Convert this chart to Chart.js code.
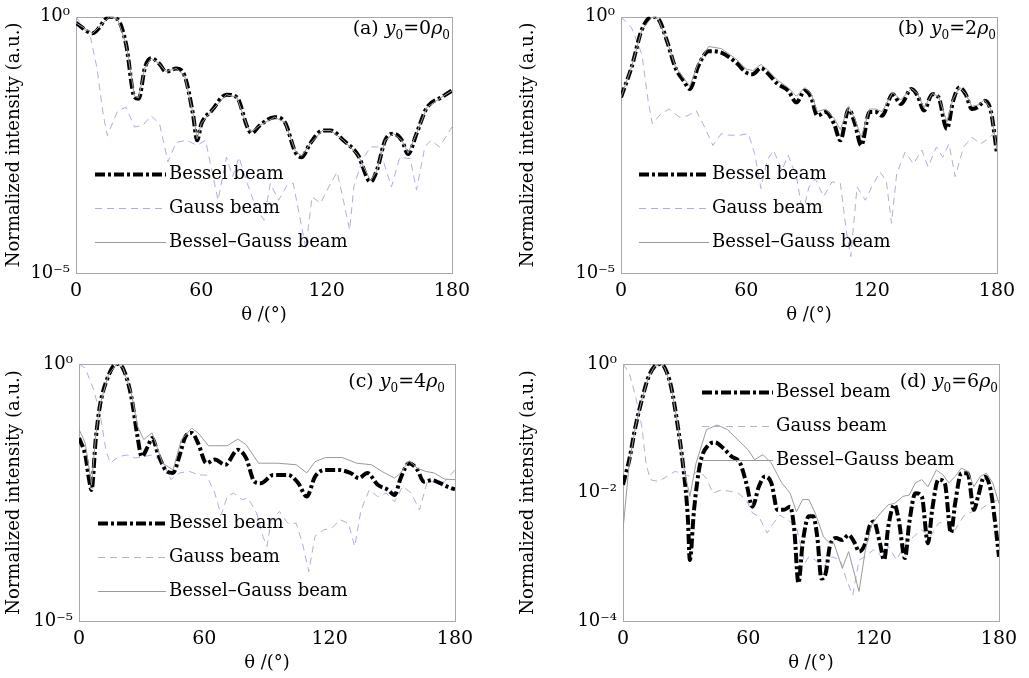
<!DOCTYPE html>
<html lang="en">
<head>
<meta charset="UTF-8">
<title>Normalized intensity vs scattering angle</title>
<script src="https://cdn.jsdelivr.net/npm/chart.js"></script>
<style>
  body { margin: 0; background: #fff; }
  #wrap { position: relative; width: 1029px; height: 678px; }
  canvas { position: absolute; }
</style>
</head>
<body>
<div id="wrap">
  <canvas id="ca" width="514" height="330" style="left:0;top:0"></canvas>
  <canvas id="cb" width="515" height="330" style="left:514px;top:0"></canvas>
  <canvas id="cc" width="514" height="348" style="left:0;top:330px"></canvas>
  <canvas id="cd" width="515" height="348" style="left:514px;top:330px"></canvas>
</div>
<script>
// all intensities are stored as log10(normalized intensity)
const xTicks = [0, 60, 120, 180];
const yTicks5 = [1e-5, 1];
const yLabels5 = ['10⁻⁵', '10⁰'];
const yTicks4 = [1e-4, 1e-2, 1];
const yLabels4 = ['10⁻⁴', '10⁻²', '10⁰'];
const seriesNames = ['Bessel beam', 'Gauss beam', 'Bessel–Gauss beam'];
const panelTags = ['(a)', '(b)', '(c)', '(d)'];
const y0Values = [0, 2, 4, 6];

// (a) y0 = 0
const thBesA = [0,8,16,20,24,28,30,33,36,40,43,48,52,56,58,60,65,72,77,82,84,88,95,100,105,108,112,118,122,128,135,141,144,148,152,156,159,163,168,175,180];
const besA = [-0.12,-0.32,0,-0.05,-0.54,-1.57,-1.6,-0.99,-0.81,-0.92,-1.07,-1.01,-1.15,-1.9,-2.41,-2.09,-1.83,-1.52,-1.57,-2.15,-2.27,-2.12,-1.96,-2.06,-2.64,-2.74,-2.48,-2.22,-2.22,-2.41,-2.7,-3.22,-3.0,-2.41,-2.28,-2.41,-2.68,-2.28,-1.77,-1.57,-1.44];
const thGauA = [0,7,10,13,15,20,24,28,32,36,40,44,48,53,58,62,66,68,72,75,78,82,86,90,93,97,101,104,110,113,117,121,125,128,131,133,137,141,145,151,155,160,163,167,170,174,180];
const gauA = [0,-0.41,-0.99,-1.9,-2.32,-1.83,-1.77,-2.15,-2.12,-1.93,-2.09,-2.83,-2.45,-2.41,-2.51,-2.41,-3.19,-3.58,-2.74,-3.12,-2.74,-3.25,-3.71,-3.97,-3.25,-3.58,-3.29,-3.25,-4.51,-3.51,-3.64,-3.32,-3.03,-3.58,-4.16,-3.32,-2.8,-2.54,-2.54,-3.32,-2.74,-2.77,-3.38,-2.54,-2.41,-2.54,-2.15];
const thBgA = thBesA;
const bgA = [-0.12,-0.32,0,-0.05,-0.54,-1.55,-1.58,-0.99,-0.81,-0.92,-1.07,-1.01,-1.15,-1.88,-2.38,-2.08,-1.83,-1.52,-1.57,-2.14,-2.25,-2.12,-1.96,-2.06,-2.62,-2.72,-2.48,-2.22,-2.22,-2.41,-2.7,-3.2,-3.0,-2.41,-2.28,-2.41,-2.66,-2.28,-1.77,-1.57,-1.44];

// (b) y0 = 2
const thBesB = [0,5,10,15,18,22,26,30,33,37,42,48,55,60,63,67,70,75,80,84,88,91,94,98,102,105,109,112,115,119,122,125,130,134,139,142,145,149,152,156,159,162,165,168,171,174,177,180];
const besB = [-1.57,-0.99,-0.25,0,-0.05,-0.47,-0.99,-1.25,-1.41,-0.96,-0.67,-0.7,-0.89,-1.09,-1.12,-1.0,-1.09,-1.31,-1.44,-1.67,-1.44,-1.57,-1.93,-1.86,-2.09,-2.41,-1.8,-2.09,-2.51,-1.86,-1.86,-1.93,-1.51,-1.7,-1.41,-1.54,-1.83,-1.51,-1.57,-2.19,-1.64,-1.38,-1.51,-1.8,-1.76,-1.64,-1.83,-2.67];
const thGauB = [0,5,10,13,15,19,23,28,32,36,40,44,48,52,57,61,64,67,70,73,77,80,84,87,90,93,97,101,105,108,110,113,117,120,124,127,129.5,132,136,140,144,147,151,154,157,160,164,168,172,176,180];
const gauB = [0,-0.21,-0.73,-1.64,-2.09,-1.9,-1.8,-1.96,-1.93,-1.83,-2.15,-2.51,-2.28,-2.31,-2.31,-2.28,-2.67,-3.35,-2.8,-2.6,-3.0,-2.7,-3.12,-3.84,-3.32,-3.16,-3.51,-3.22,-3.25,-4.22,-4.68,-3.32,-3.58,-3.32,-3.03,-3.2,-4.03,-3.06,-2.64,-2.87,-2.6,-2.93,-2.54,-2.74,-2.48,-3.12,-2.54,-2.35,-2.48,-2.38,-2.19];
const thBgB = thBesB;
const bgB = [-1.57,-0.99,-0.25,0,-0.05,-0.47,-0.97,-1.2,-1.35,-0.9,-0.58,-0.62,-0.82,-1.02,-1.05,-0.93,-1.03,-1.24,-1.38,-1.55,-1.38,-1.5,-1.85,-1.8,-1.98,-2.2,-1.75,-2.0,-2.35,-1.8,-1.8,-1.85,-1.48,-1.62,-1.4,-1.5,-1.78,-1.5,-1.55,-2.05,-1.6,-1.37,-1.5,-1.75,-1.72,-1.62,-1.8,-2.6];

// (c) y0 = 4
const thBesC = [0,3,5,6,8,10,14,18,21,25,28,30,33,35,38,42,45,48,51,54,57,61,65,70,76,80,84,87,93,100,105,109,113,118,124,130,134,138,143,148,151,154,158,162,165,169,173,176,180];
const besC = [-1.44,-1.77,-2.29,-2.45,-1.47,-0.82,-0.24,0,-0.08,-0.63,-1.41,-1.8,-1.6,-1.44,-1.77,-2.09,-2.12,-1.8,-1.41,-1.34,-1.54,-1.93,-1.86,-1.96,-1.67,-1.83,-2.29,-2.32,-2.16,-2.16,-2.32,-2.58,-2.19,-2.06,-2.06,-2.12,-2.22,-2.12,-2.35,-2.45,-2.55,-2.22,-1.93,-2.06,-2.29,-2.26,-2.32,-2.38,-2.44];
const thGauC = [0,3,7,10,13,15,19,23,27,31,35,40,44,48,53,57,61,65,68,71,74,78,81,85,88,90,92,96,100,104,107,110,113,117,121,125,129,132,135,139,143,147,151,155,159,163,167,171,175,180];
const gauC = [0,-0.08,-0.5,-0.95,-1.7,-1.93,-1.8,-1.77,-1.83,-1.8,-1.77,-1.9,-2.25,-2.12,-2.09,-2.16,-2.16,-2.51,-2.94,-2.58,-2.51,-2.64,-2.61,-2.9,-3.35,-3.55,-3.03,-2.87,-3.1,-3.1,-3.49,-4.04,-3.35,-3.23,-3.19,-3.03,-3.1,-3.55,-2.84,-2.45,-2.58,-2.51,-2.68,-2.38,-2.51,-2.84,-2.25,-2.32,-2.29,-2.06];
const thBgC = [0,3,6,8,10,14,18,21,25,28,31,35,40,45,49,54,57,62,71,76,80,86,95,104,109,113,118,126,133,140,145,151,154,158,162,166,170,175,180];
const bgC = [-1.27,-1.54,-2.35,-1.4,-0.8,-0.22,0,-0.07,-0.55,-1.21,-1.47,-1.34,-1.93,-2.06,-1.47,-1.25,-1.34,-1.59,-1.59,-1.46,-1.57,-1.93,-1.93,-1.96,-2.12,-1.9,-1.82,-1.82,-1.93,-1.96,-2.09,-2.22,-2.12,-1.88,-2.03,-2.09,-2.12,-2.24,-2.25];

// (d) y0 = 6
const thBesD = [0,3,6,9,12,15,18,20,23,26,29,31,32,34,37,41,44,48,52,56,59,62,65,68,71,74,77,80,82,84,86,89,91,93,95,97,99,102,105,108,111,113,116,118,120,123,125,127,130,132,135,137,140,143,146,148,151,154,157,159,162,165,168,170,173,176,178,180];
const besD = [-1.88,-1.49,-0.97,-0.56,-0.22,-0.04,0,-0.06,-0.35,-0.92,-1.65,-2.37,-3.05,-2.27,-1.54,-1.26,-1.22,-1.31,-1.44,-1.54,-1.85,-2.22,-1.91,-1.75,-1.85,-2.27,-2.27,-2.22,-2.58,-3.41,-2.79,-2.37,-2.37,-2.69,-3.34,-3.26,-2.84,-2.71,-2.74,-2.66,-2.79,-2.92,-2.79,-2.53,-2.45,-2.79,-3.05,-2.53,-2.19,-2.43,-3.02,-2.48,-2.01,-2.06,-2.79,-2.27,-1.8,-1.85,-2.63,-2.17,-1.7,-1.7,-2.27,-2.06,-1.75,-1.96,-2.43,-3.0];
const thGauD = [0,3,6,9,11,13,17,21,25,29,33,36,40,43,47,51,55,59,62,65,69,72,75,79,83,87,89,92,96,100,104,107,110,113,116,120,124,127,131,135,139,143,147,151,155,159,163,167,171,175,180];
const gauD = [0,-0.14,-0.5,-0.97,-1.54,-1.8,-1.83,-1.75,-1.67,-1.72,-1.75,-1.65,-1.78,-2.01,-1.96,-1.98,-2.01,-2.11,-2.32,-2.37,-2.63,-2.48,-2.35,-2.43,-2.53,-3.1,-3.0,-3.05,-3.15,-3.0,-3.05,-3.36,-3.6,-3.05,-3.0,-2.89,-3.0,-2.84,-3.05,-2.79,-2.69,-2.58,-2.69,-2.48,-2.43,-2.58,-2.37,-2.3,-2.27,-2.17,-2.11];
const thBgD = [0,3,6,9,12,15,18,20,23,26,29,32,35,40,45,50,55,60,63,67,71,76,80,83,86,89,92,96,99,101,105,108,113,116,119,122,127,130,134,137,140,143,146,150,153,156,159,162,165,168,171,174,177,180];
const bgD = [-2.58,-1.54,-0.97,-0.56,-0.22,-0.04,0,-0.06,-0.35,-0.9,-1.6,-2.06,-1.54,-1.02,-0.95,-1.02,-1.18,-1.34,-1.49,-1.41,-1.54,-1.85,-2.01,-2.3,-2.11,-2.11,-2.32,-2.69,-2.79,-2.79,-3.18,-2.92,-3.54,-2.9,-2.5,-2.37,-2.19,-2.17,-2.06,-2.04,-1.85,-1.8,-1.91,-1.65,-1.72,-1.85,-1.75,-1.62,-1.67,-1.91,-1.75,-1.7,-1.85,-2.17];

const FAMILY = '"DejaVu Serif", serif';
const FS = 18;

function pts(th, lg) {
  return th.map((t, i) => ({ x: t, y: Math.pow(10, lg[i]) }));
}

// grey box round the plot area
const frame = {
  id: 'frame',
  beforeDatasetsDraw(chart) {
    const a = chart.chartArea, ctx = chart.ctx;
    ctx.save();
    ctx.strokeStyle = '#a8a8a8';
    ctx.lineWidth = 1;
    ctx.strokeRect(Math.round(a.left) + 0.5, Math.round(a.top) + 0.5, Math.round(a.right - a.left), Math.round(a.bottom - a.top));
    ctx.restore();
  }
};

// legend with line samples inside the plot
const beamLegend = {
  id: 'beamLegend',
  afterDatasetsDraw(chart, args, o) {
    const ctx = chart.ctx, a = chart.chartArea;
    const x0 = a.left + o.dx;
    ctx.save();
    [0, 1, 2].forEach((di, k) => {
      const ds = chart.data.datasets[di];
      const y = Math.round(a.top + o.dy + k * o.gap) + 0.5;
      ctx.beginPath();
      ctx.strokeStyle = ds.borderColor;
      ctx.lineWidth = ds.borderWidth;
      ctx.setLineDash(ds.borderDash || []);
      ctx.moveTo(x0, y);
      ctx.lineTo(x0 + o.len, y);
      ctx.stroke();
      ctx.setLineDash([]);
      ctx.fillStyle = '#000';
      ctx.font = FS + 'px ' + FAMILY;
      ctx.textBaseline = 'middle';
      ctx.fillText(ds.label, x0 + o.len + 3, y);
    });
    ctx.restore();
  }
};

// "(a) y0=0ρ0" tag
const panelTag = {
  id: 'panelTag',
  afterDatasetsDraw(chart, args, o) {
    const ctx = chart.ctx, a = chart.chartArea;
    const big = 19, small = 12;
    const parts = [
      { t: o.tag + ' ', f: big + 'px ' + FAMILY, dy: 0 },
      { t: 'y', f: 'italic ' + big + 'px ' + FAMILY, dy: 0 },
      { t: '0', f: small + 'px ' + FAMILY, dy: 5 },
      { t: '=' + o.y0, f: big + 'px ' + FAMILY, dy: 0 },
      { t: 'ρ', f: 'italic ' + big + 'px ' + FAMILY, dy: 0 },
      { t: '0', f: small + 'px ' + FAMILY, dy: 5 }
    ];
    ctx.save();
    ctx.fillStyle = '#000';
    ctx.textBaseline = 'alphabetic';
    let w = 0;
    parts.forEach(p => { ctx.font = p.f; w += ctx.measureText(p.t).width; });
    let x = a.right - o.rx - w;
    const y = a.top + o.by;
    parts.forEach(p => {
      ctx.font = p.f;
      ctx.fillText(p.t, x, y + p.dy);
      x += ctx.measureText(p.t).width;
    });
    ctx.restore();
  }
};

function makePanel(p) {
  new Chart(document.getElementById(p.id), {
    type: 'line',
    data: {
      datasets: [
        { label: seriesNames[0], data: pts(p.thBes, p.bes), borderColor: '#000', borderWidth: 4,
          borderDash: [10, 3, 3, 3], cubicInterpolationMode: 'monotone', order: 2 },
        { label: seriesNames[1], data: pts(p.thGau, p.gau), borderColor: '#a9b0de', borderWidth: 1,
          borderDash: [7, 5], tension: 0, order: 3 },
        { label: seriesNames[2], data: pts(p.thBg, p.bg), borderColor: '#9a9a9a', borderWidth: 1,
          tension: 0, order: 1 }
      ]
    },
    options: {
      responsive: false,
      animation: false,
      devicePixelRatio: 1,
      layout: { padding: { left: 0, top: p.top, right: p.w - p.right, bottom: 0 } },
      elements: { point: { radius: 0 } },
      plugins: {
        legend: { display: false },
        tooltip: { enabled: false },
        beamLegend: p.legend,
        panelTag: p.tag
      },
      scales: {
        x: {
          type: 'linear', min: 0, max: 180,
          grid: { display: false, drawTicks: false },
          border: { display: false },
          afterBuildTicks: s => { s.ticks = xTicks.map(v => ({ value: v })); },
          afterFit: s => { s.height = p.h - p.bottom; },
          ticks: { color: '#000', font: { family: FAMILY, size: 19 }, padding: 7, maxRotation: 0 },
          title: { display: true, text: 'θ /(°)', color: '#000', font: { family: FAMILY, size: 18 }, padding: { top: 0, bottom: 4 } }
        },
        y: {
          type: 'logarithmic', min: p.yTicks[0], max: 1,
          grid: { display: false, drawTicks: false },
          border: { display: false },
          afterBuildTicks: s => { s.ticks = p.yTicks.map(v => ({ value: v })); },
          afterFit: s => { s.width = p.left; },
          ticks: { color: '#000', font: { family: FAMILY, size: 18 }, padding: 6,
                   callback: (v, i) => p.yLabels[i] },
          title: { display: true, text: 'Normalized intensity (a.u.)', color: '#000', font: { family: FAMILY, size: 18 }, padding: { top: 4, bottom: 0 } }
        }
      }
    },
    plugins: [frame, beamLegend, panelTag]
  });
}

makePanel({ id: 'ca', w: 514, h: 330, left: 76, right: 452, top: 16, bottom: 273,
  thBes: thBesA, bes: besA, thGau: thGauA, gau: gauA, thBg: thBgA, bg: bgA,
  yTicks: yTicks5, yLabels: yLabels5,
  legend: { dx: 19, dy: 157, gap: 34, len: 71 },
  tag: { tag: panelTags[0], y0: y0Values[0], rx: 2, by: 17 } });

makePanel({ id: 'cb', w: 515, h: 330, left: 107, right: 483, top: 16, bottom: 273,
  thBes: thBesB, bes: besB, thGau: thGauB, gau: gauB, thBg: thBgB, bg: bgB,
  yTicks: yTicks5, yLabels: yLabels5,
  legend: { dx: 18, dy: 157, gap: 34, len: 70 },
  tag: { tag: panelTags[1], y0: y0Values[1], rx: 1, by: 17 } });

makePanel({ id: 'cc', w: 514, h: 348, left: 79, right: 455, top: 34, bottom: 291,
  thBes: thBesC, bes: besC, thGau: thGauC, gau: gauC, thBg: thBgC, bg: bgC,
  yTicks: yTicks5, yLabels: yLabels5,
  legend: { dx: 19, dy: 159, gap: 34, len: 68 },
  tag: { tag: panelTags[2], y0: y0Values[2], rx: 10, by: 23 } });

makePanel({ id: 'cd', w: 515, h: 348, left: 109, right: 485, top: 34, bottom: 291,
  thBes: thBesD, bes: besD, thGau: thGauD, gau: gauD, thBg: thBgD, bg: bgD,
  yTicks: yTicks4, yLabels: yLabels4,
  legend: { dx: 79, dy: 28, gap: 34, len: 71 },
  tag: { tag: panelTags[3], y0: y0Values[3], rx: 1, by: 23 } });
</script>
</body>
</html>
